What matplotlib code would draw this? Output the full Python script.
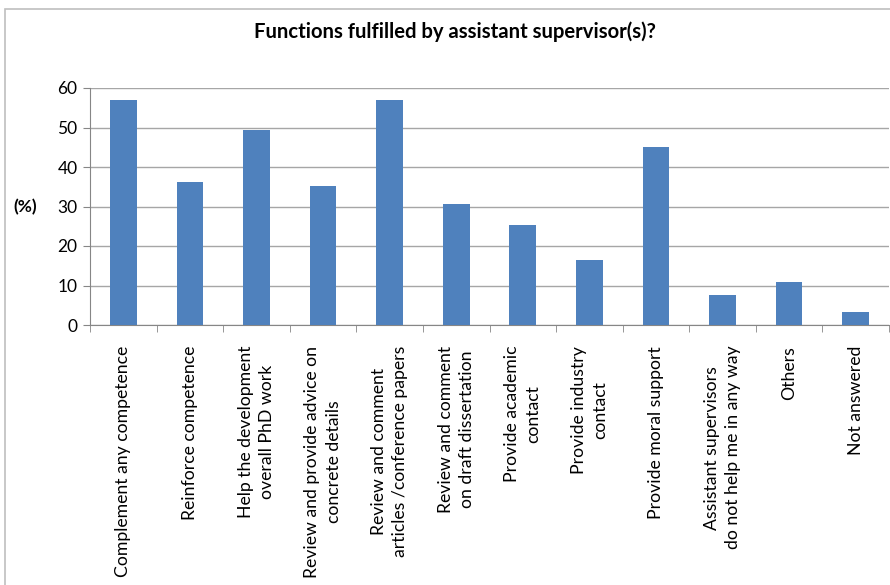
import matplotlib.pyplot as plt
from matplotlib.patches import Rectangle
from matplotlib.ticker import FixedLocator

# survey answers, share of respondents in %
funcoes = [
    'Complement any competence',
    'Reinforce competence',
    'Help the development\noverall PhD work',
    'Review and provide advice on\nconcrete details',
    'Review and comment\narticles /conference papers',
    'Review and comment\non draft dissertation',
    'Provide academic\ncontact',
    'Provide industry\ncontact',
    'Provide moral support',
    'Assistant supervisors\ndo not help me in any way',
    'Others',
    'Not answered',
]
percentuais = [57.0, 36.2, 49.4, 35.1, 57.0, 30.6, 25.2, 16.4, 45.0, 7.6, 11.0, 3.2]
ticks_y = [0, 10, 20, 30, 40, 50, 60]

plt.rcParams['font.family'] = ['Lato', 'DejaVu Sans']

fig = plt.figure(figsize=(8.9, 5.85), dpi=100)
ax = fig.add_axes([90 / 890, 1 - 325 / 585, 799 / 890, 237 / 585])

# moldura do gráfico (só topo e esquerda aparecem)
fig.patches.append(Rectangle((5 / 890, -0.1), 1.2, 1.1 - 9 / 585,
                             transform=fig.transFigure, fill=False,
                             edgecolor='#bfbfbf', linewidth=1.2))

x = range(len(funcoes))
ax.bar(x, percentuais, width=0.4, color='#4f81bd', zorder=3)

ax.set_xlim(-0.5, len(funcoes) - 0.5)
ax.set_ylim(0, 60)
ax.set_yticks(ticks_y)
ax.tick_params(axis='y', labelsize=12.5, length=5, color='#868686', pad=4)
ax.grid(axis='y', color='#a6a6a6', linewidth=1, zorder=0)

# rótulos das categorias, girados e centralizados
ax.set_xticks(list(x))
ax.set_xticklabels(funcoes, rotation=90, fontsize=12.7, multialignment='center',
                   va='top', ha='center', linespacing=1.4)
ax.tick_params(axis='x', which='major', length=0, pad=15)
ax.xaxis.set_minor_locator(FixedLocator([i - 0.5 for i in range(len(funcoes) + 1)]))
ax.tick_params(axis='x', which='minor', length=5, color='#868686')

for lado in ['top', 'right']:
    ax.spines[lado].set_visible(False)
ax.spines['left'].set_color('#868686')
ax.spines['bottom'].set_color('#868686')

ax.set_title('Functions fulfilled by assistant supervisor(s)?', fontsize=14.6,
             fontweight='bold', x=(455 - 90) / 799, y=1 + (88 - 32) / 237,
             va='center', pad=0)
fig.text(25 / 890, 1 - 207 / 585, '(%)', fontsize=12.5, fontweight='bold',
         ha='center', va='center')

fig.savefig('out.png', dpi=100)
